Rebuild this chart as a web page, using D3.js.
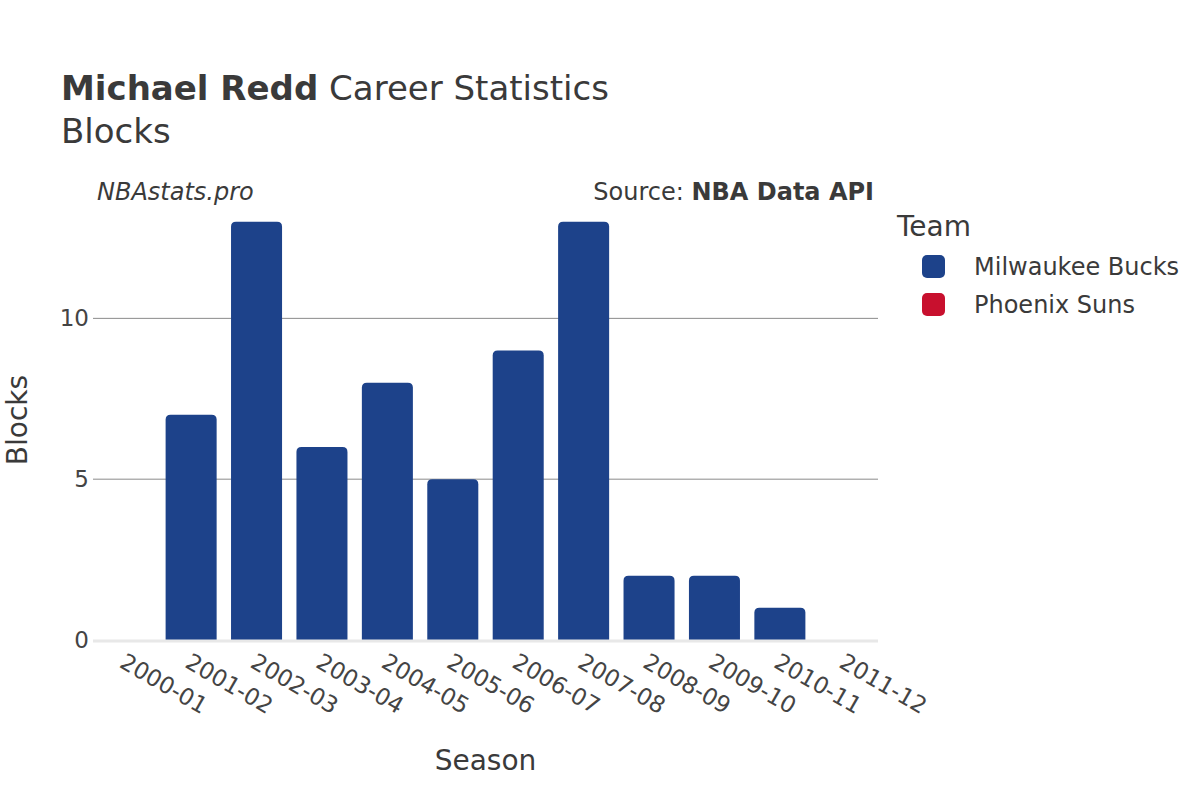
<!DOCTYPE html>
<html><head><meta charset="utf-8">
<script src="https://cdn.jsdelivr.net/npm/d3@7"></script>
<style>body{margin:0;background:#fff;}svg{font-family:"DejaVu Sans",sans-serif;}</style>
</head><body><svg id="c" width="1200" height="800"></svg>
<script>
const seasons = ["2000-01","2001-02","2002-03","2003-04","2004-05","2005-06","2006-07","2007-08","2008-09","2009-10","2010-11","2011-12"];
const teams = ["Milwaukee Bucks","Phoenix Suns"];
const teamColors = ["#1d428a","#c8102e"];
const bucksBlocks = [0,7,13,6,8,5,9,13,2,2,1,null];
const sunsBlocks = [null,null,null,null,null,null,null,null,null,null,null,0];
const yTicks = [0,5,10];

const svg = d3.select("#c");
const m = {l:93, r:878, t:200, b:640};
const x = d3.scaleBand().domain(seasons).range([m.l, m.r]).paddingInner(0.22).paddingOuter(0.11);
const y = d3.scaleLinear().domain([0, 13.68]).range([m.b, m.t]);
const color = d3.scaleOrdinal().domain(teams).range(teamColors);

// grid
svg.append("g").selectAll("line").data(yTicks.filter(d=>d>0)).join("line")
  .attr("x1", m.l).attr("x2", m.r).attr("y1", d=>y(d)).attr("y2", d=>y(d))
  .attr("stroke", "#8a8a8a").attr("stroke-width", 1);

// bars
const rows = [];
seasons.forEach((s,i)=>{
  if (bucksBlocks[i]!==null) rows.push({s, team:teams[0], v:bucksBlocks[i]});
  if (sunsBlocks[i]!==null) rows.push({s, team:teams[1], v:sunsBlocks[i]});
});
function barPath(x0, w, yTop, yBot, r) {
  const h = yBot - yTop;
  if (h <= 0) return "";
  r = Math.min(r, h, w/2);
  return `M${x0},${yBot}V${yTop+r}Q${x0},${yTop} ${x0+r},${yTop}H${x0+w-r}Q${x0+w},${yTop} ${x0+w},${yTop+r}V${yBot}Z`;
}
svg.append("g").selectAll("path").data(rows).join("path")
  .attr("d", d=>barPath(x(d.s), x.bandwidth(), y(d.v), y(0), 5))
  .attr("fill", d=>color(d.team));

// zero line
svg.append("line").attr("x1", m.l).attr("x2", m.r).attr("y1", y(0)+1).attr("y2", y(0)+1)
  .attr("stroke", "#e8e8e8").attr("stroke-width", 3);

// y axis
const ya = svg.append("g").attr("transform", `translate(${m.l},0)`)
  .call(d3.axisLeft(y).tickValues(yTicks).tickSize(0).tickPadding(4));
ya.select(".domain").remove();
ya.selectAll("text").attr("font-size", 23).attr("fill", "#444").attr("font-family", "DejaVu Sans");

// x axis
const xa = svg.append("g").attr("transform", `translate(0,${m.b})`)
  .call(d3.axisBottom(x).tickSize(0));
xa.select(".domain").remove();
xa.selectAll("text").attr("font-size", 23).attr("fill", "#444").attr("font-family", "DejaVu Sans")
  .attr("text-anchor", "start").attr("dy", 0)
  .attr("transform", "translate(-6,24) rotate(30)");

// titles
const t = svg.append("text").attr("x", 61).attr("y", 100).attr("font-size", 34).attr("fill", "#3a3a3a");
t.append("tspan").attr("font-weight", "bold").text("Michael Redd");
t.append("tspan").text(" Career Statistics");
svg.append("text").attr("x", 61).attr("y", 143).attr("font-size", 34).attr("fill", "#3a3a3a").text("Blocks");

svg.append("text").attr("x", 97).attr("y", 200).attr("font-size", 24).attr("font-style", "italic").attr("fill", "#3a3a3a").text("NBAstats.pro");
const src = svg.append("text").attr("x", 874).attr("y", 200).attr("font-size", 24).attr("text-anchor", "end").attr("fill", "#3a3a3a");
src.append("tspan").text("Source: ");
src.append("tspan").attr("font-weight", "bold").text("NBA Data API");

svg.append("text").attr("x", (m.l+m.r)/2).attr("y", 770).attr("text-anchor", "middle").attr("font-size", 28).attr("fill", "#3a3a3a").text("Season");
svg.append("text").attr("transform", `translate(27,${(m.t+m.b)/2}) rotate(-90)`).attr("text-anchor", "middle").attr("font-size", 28).attr("fill", "#3a3a3a").text("Blocks");

// legend
svg.append("text").attr("x", 897).attr("y", 236).attr("font-size", 28).attr("fill", "#3a3a3a").text("Team");
const lg = svg.append("g").selectAll("g").data(teams).join("g")
  .attr("transform", (d,i)=>`translate(922,${266 + i*38})`);
lg.append("rect").attr("x", 0).attr("y", -11).attr("width", 23).attr("height", 23).attr("rx", 5)
  .attr("fill", d=>color(d));
lg.append("text").attr("x", 52).attr("y", 9).attr("font-size", 24).attr("fill", "#3a3a3a").text(d=>d);
</script></body></html>
